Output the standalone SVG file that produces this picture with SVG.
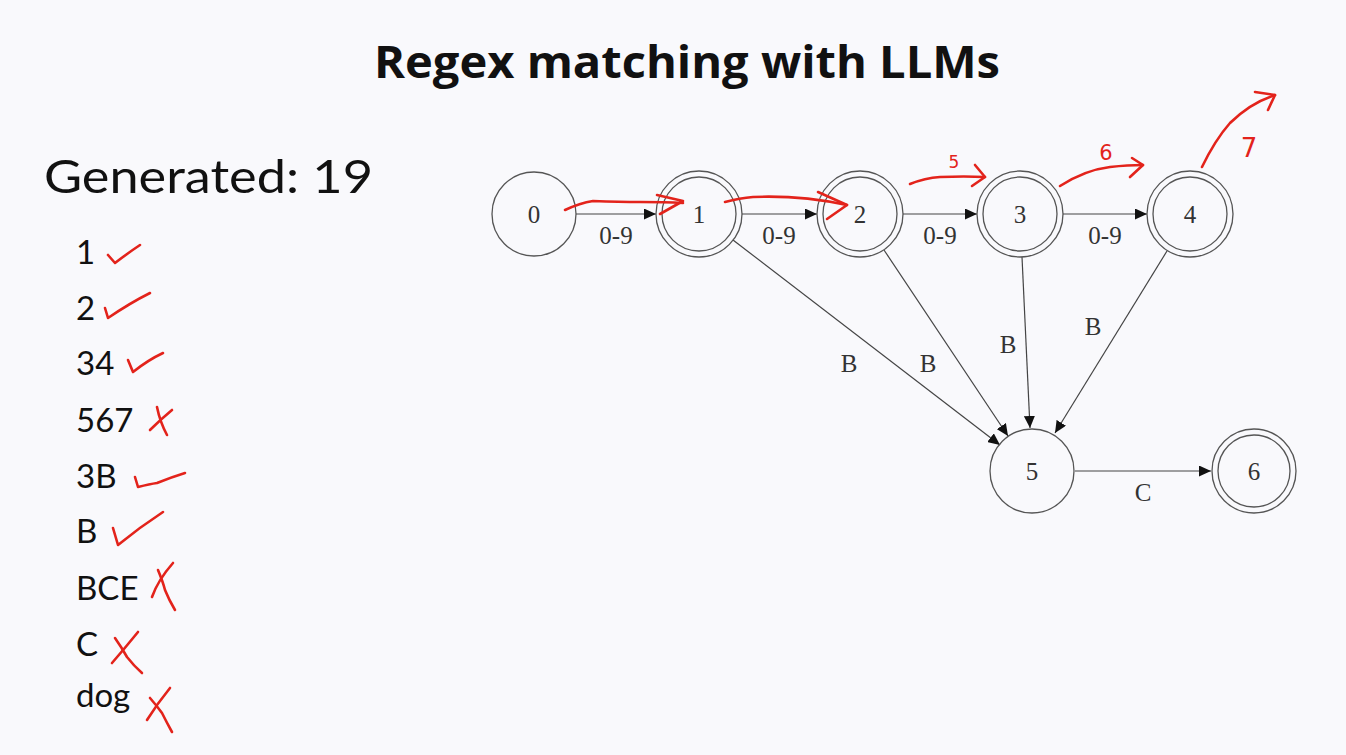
<svg xmlns="http://www.w3.org/2000/svg" width="1346" height="755" viewBox="0 0 1346 755">
<style>
.bg{fill:#f9f9fc}
.title{font-family:"Open Sans","Liberation Sans",sans-serif;font-weight:bold;font-size:45px;fill:#111}
.gen{font-family:Lato,"Open Sans","Liberation Sans",sans-serif;font-size:47px;fill:#111}
.item{font-family:Lato,"Open Sans","Liberation Sans",sans-serif;font-size:33px;fill:#111}
.node{fill:none;stroke:#555;stroke-width:1.3}
.nlab{font-family:"Liberation Serif","DejaVu Serif",serif;font-size:25px;fill:#333;text-anchor:middle}
.elab{font-family:"Liberation Serif","DejaVu Serif",serif;font-size:25px;fill:#333;text-anchor:middle}
.edge{fill:none;stroke:#444;stroke-width:1.2}
.ink{fill:none;stroke:#e3231b;stroke-width:2.6;stroke-linecap:round;stroke-linejoin:round}
.hw{font-family:"DejaVu Sans",sans-serif;fill:#e3231b;text-anchor:middle}
</style>
<defs>
<marker id="arr" markerUnits="userSpaceOnUse" markerWidth="13" markerHeight="11" refX="12" refY="5.5" orient="auto">
<path d="M0,0 L12,5.5 L0,11 Z" fill="#111"/>
</marker>
</defs>
<rect class="bg" x="0" y="0" width="1346" height="755"/>
<text class="title" x="687" y="78" text-anchor="middle" textLength="626" lengthAdjust="spacingAndGlyphs">Regex matching with LLMs</text>
<g id="list">
<text class="gen" x="44" y="193" textLength="329" lengthAdjust="spacingAndGlyphs">Generated: 19</text>
<text class="item" x="76" y="264">1</text>
<text class="item" x="76" y="320">2</text>
<text class="item" x="76" y="375">34</text>
<text class="item" x="76" y="432">567</text>
<text class="item" x="76" y="488">3B</text>
<text class="item" x="76" y="543">B</text>
<text class="item" x="76" y="600">BCE</text>
<text class="item" x="76" y="656">C</text>
<text class="item" x="76" y="707">dog</text>
</g>
<g id="marks">
<path class="ink" d="M108,255 L115,263 Q128,253 140,245"/>
<path class="ink" d="M105,308 L108,318 Q130,303 150,293"/>
<path class="ink" d="M128,360 L133,372 Q148,360 163,353"/>
<path class="ink" d="M172,410 Q160,420 150,430"/>
<path class="ink" d="M157,407 Q160,422 167,435"/>
<path class="ink" d="M135,477 L138,487 Q150,484 157,483 Q172,477 185,473"/>
<path class="ink" d="M113,528 L118,545 Q140,527 163,512"/>
<path class="ink" d="M173,563 Q158,580 152,597"/>
<path class="ink" d="M158,570 Q163,582 165,590 Q169,600 175,610"/>
<path class="ink" d="M138,632 Q125,648 112,663"/>
<path class="ink" d="M115,638 Q122,648 127,657 Q134,666 142,673"/>
<path class="ink" d="M170,688 Q157,704 147,720"/>
<path class="ink" d="M150,698 Q157,706 162,713 Q167,723 172,732"/>
</g>
<g id="edges">
<path class="edge" marker-end="url(#arr)" d="M576,214 L656,214"/>
<path class="edge" marker-end="url(#arr)" d="M742,214 L817,214"/>
<path class="edge" marker-end="url(#arr)" d="M903,214 L977,214"/>
<path class="edge" marker-end="url(#arr)" d="M1063,214 L1147,214"/>
<path class="edge" marker-end="url(#arr)" d="M733,240 L1000,445"/>
<path class="edge" marker-end="url(#arr)" d="M884,250 L1008,436"/>
<path class="edge" marker-end="url(#arr)" d="M1022,257 L1030,428"/>
<path class="edge" marker-end="url(#arr)" d="M1167,251 L1055,433"/>
<path class="edge" marker-end="url(#arr)" d="M1075,471 L1211,471"/>
<text class="elab" x="616" y="244">0-9</text>
<text class="elab" x="779" y="244">0-9</text>
<text class="elab" x="940" y="244">0-9</text>
<text class="elab" x="1105" y="244">0-9</text>
<text class="elab" x="849" y="372">B</text>
<text class="elab" x="928" y="372">B</text>
<text class="elab" x="1008" y="353">B</text>
<text class="elab" x="1093" y="335">B</text>
<text class="elab" x="1143" y="501">C</text>
</g>
<g id="node0"><circle class="node" cx="534" cy="214" r="42"/><text class="nlab" x="534" y="223">0</text></g>
<g id="node1"><circle class="node" cx="699" cy="214" r="43"/><circle class="node" cx="699" cy="214" r="37"/><text class="nlab" x="699" y="223">1</text></g>
<g id="node2"><circle class="node" cx="860" cy="214" r="43"/><circle class="node" cx="860" cy="214" r="37"/><text class="nlab" x="860" y="223">2</text></g>
<g id="node3"><circle class="node" cx="1020" cy="214" r="43"/><circle class="node" cx="1020" cy="214" r="37"/><text class="nlab" x="1020" y="223">3</text></g>
<g id="node4"><circle class="node" cx="1190" cy="214" r="43"/><circle class="node" cx="1190" cy="214" r="37"/><text class="nlab" x="1190" y="223">4</text></g>
<g id="node5"><circle class="node" cx="1032" cy="471" r="42"/><text class="nlab" x="1032" y="480">5</text></g>
<g id="node6"><circle class="node" cx="1254" cy="471" r="42"/><circle class="node" cx="1254" cy="471" r="36"/><text class="nlab" x="1254" y="480">6</text></g>
<g id="annotations">
<path class="ink" d="M565,210 Q580,203 593,201 Q620,202 640,202 Q665,202 683,203"/>
<path class="ink" d="M657,195 L683,201 L660,214"/>
<path class="ink" d="M725,202 Q740,198 753,197 Q800,195 847,205"/>
<path class="ink" d="M818,192 L847,205 L827,219"/>
<path class="ink" d="M910,184 Q925,178 940,177 Q965,176 985,177"/>
<path class="ink" d="M975,165 L985,177 L972,186"/>
<path class="ink" d="M1060,186 Q1085,170 1110,167 Q1128,165 1143,165"/>
<path class="ink" d="M1132,158 L1143,165 L1130,177"/>
<path class="ink" d="M1202,167 Q1215,140 1230,123 Q1250,103 1275,95"/>
<path class="ink" d="M1255,92 L1275,95 L1268,110"/>
<text class="hw" x="954" y="168" font-size="17">5</text>
<text class="hw" x="1106" y="160" font-size="21">6</text>
<text class="hw" x="1249" y="157" font-size="26">7</text>
</g>
</svg>
